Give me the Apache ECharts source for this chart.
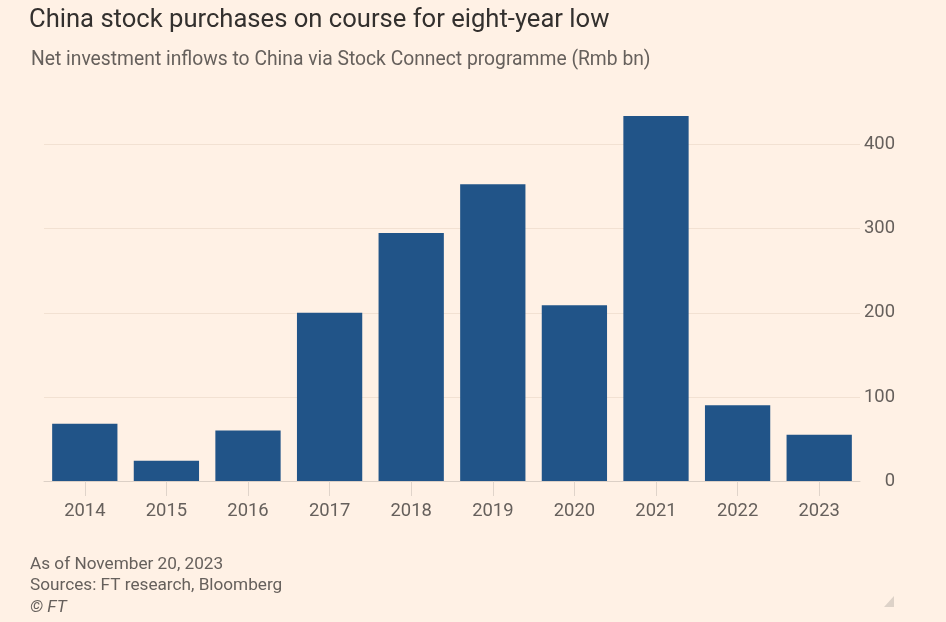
<!DOCTYPE html>
<html>
<head>
<meta charset="utf-8">
<script src="https://cdn.jsdelivr.net/npm/echarts@6/dist/echarts.min.js"></script>
<style>
html,body{margin:0;padding:0;background:#fff1e5;}
#chart{width:946px;height:622px;}
</style>
</head>
<body>
<div id="chart"></div>
<script>
const categories = ['2014','2015','2016','2017','2018','2019','2020','2021','2022','2023'];
const inflows = [68, 24, 60, 200, 295, 353, 209, 434, 90, 55];
const yTicks = [0, 100, 200, 300, 400];

const FONT = "'Roboto', sans-serif";
const chart = echarts.init(document.getElementById('chart'), null, {renderer: 'canvas'});
chart.setOption({
  backgroundColor: '#fff1e5',
  animation: false,
  title: [
    {text: 'China stock purchases on course for eight-year low', left: 24, top: 3,
     textStyle: {fontFamily: FONT, fontSize: 25.6, fontWeight: 'normal', color: '#33302e'}},
    {text: 'Net investment inflows to China via Stock Connect programme (Rmb bn)', left: 26, top: 46,
     textStyle: {fontFamily: FONT, fontSize: 19.3, fontWeight: 'normal', color: '#66605c'}},
    {text: 'As of November 20, 2023', left: 25, top: 551,
     textStyle: {fontFamily: FONT, fontSize: 17.2, fontWeight: 'normal', color: '#66605c'}},
    {text: 'Sources: FT research, Bloomberg', left: 25, top: 572,
     textStyle: {fontFamily: FONT, fontSize: 17.2, fontWeight: 'normal', color: '#66605c'}},
    {text: '© FT', left: 25, top: 594,
     textStyle: {fontFamily: FONT, fontSize: 17.2, fontWeight: 'normal', fontStyle: 'italic', color: '#66605c'}}
  ],
  graphic: [
    {type: 'polygon', shape: {points: [[894, 596], [894, 607], [884, 607]]},
     style: {fill: '#ddd2c8'}}
  ],
  grid: {left: 44, right: 86, top: 111, height: 370, containLabel: false},
  xAxis: {
    type: 'category',
    data: categories,
    boundaryGap: true,
    axisLine: {show: true, lineStyle: {color: '#dcd0c6', width: 1}},
    axisTick: {show: true, alignWithLabel: true, length: 15, lineStyle: {color: '#e0d4ca'}},
    axisLabel: {margin: 21, fontFamily: FONT, fontSize: 18.4, color: '#66605c'}
  },
  yAxis: {
    type: 'value',
    position: 'right',
    min: 0, max: 440, interval: 100,
    axisLine: {show: false},
    axisTick: {show: false},
    axisLabel: {
      showMaxLabel: false,
      margin: 35, align: 'right', fontFamily: FONT, fontSize: 18.4, color: '#66605c',
      formatter: function (v) { return yTicks.indexOf(v) >= 0 ? String(v) : ''; }
    },
    splitLine: {show: true, showMaxLine: false, lineStyle: {color: '#f2e1d2', width: 1}}
  },
  series: [{
    type: 'bar',
    data: inflows,
    barCategoryGap: '20%',
    itemStyle: {color: '#215488'}
  }]
});
</script>
</body>
</html>
